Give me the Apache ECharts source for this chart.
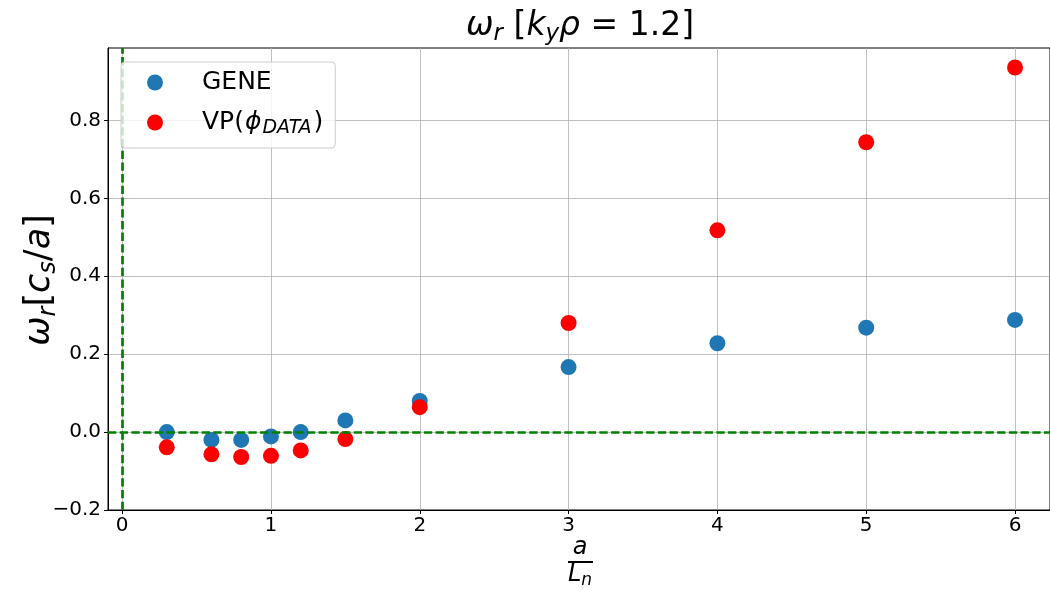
<!DOCTYPE html>
<html>
<head>
<meta charset="utf-8">
<script src="https://cdn.jsdelivr.net/npm/echarts@6/dist/echarts.min.js"></script>
<style>
  html, body { margin: 0; padding: 0; background: #fff; }
  #chart { width: 1050px; height: 589px; }
</style>
</head>
<body>
<div id="chart"></div>
<script>
// a / L_n values at which both models were evaluated
const aOverLn = [0.3, 0.6, 0.8, 1.0, 1.2, 1.5, 2, 3, 4, 5, 6];
// real frequency omega_r [c_s/a], GENE simulation
const geneOmega = [0.0, -0.02, -0.02, -0.011, 0.0, 0.03, 0.08, 0.167, 0.228, 0.268, 0.288];
// real frequency omega_r [c_s/a], VP model driven by phi data
const vpOmega = [-0.039, -0.057, -0.064, -0.061, -0.047, -0.018, 0.064, 0.280, 0.518, 0.744, 0.936];

const xTicks = [0, 1, 2, 3, 4, 5, 6];
const yTicks = [-0.2, 0.0, 0.2, 0.4, 0.6, 0.8];
const xRange = [-0.095, 6.235];
const yRange = [-0.2, 0.986];

const FONT = 'DejaVu Sans';
const pairs = (xs, ys) => xs.map((x, i) => [x, ys[i]]);
const minus = s => s.replace('-', '\u2212');

const chart = echarts.init(document.getElementById('chart'), null, { renderer: 'canvas' });

const axisCommon = {
  type: 'value',
  axisLine: { show: true, onZero: false, lineStyle: { color: '#000', width: 1 } },
  axisTick: { show: true, inside: false, length: 4, lineStyle: { color: '#000', width: 1 } },
  splitLine: { show: true, lineStyle: { color: '#b0b0b0', width: 0.8 } },
  axisLabel: { color: '#000', fontFamily: FONT, fontSize: 20 }
};

const option = {
  animation: false,
  backgroundColor: '#fff',
  grid: {
    left: 108, top: 48, width: 942, height: 462,
    show: true, borderColor: '#000', borderWidth: 1, backgroundColor: 'transparent'
  },
  xAxis: Object.assign({}, axisCommon, {
    min: xRange[0], max: xRange[1],
    axisTick: Object.assign({}, axisCommon.axisTick, { customValues: xTicks }),
    axisLabel: Object.assign({}, axisCommon.axisLabel, {
      customValues: xTicks, margin: 6,
      formatter: v => minus(String(Math.round(v)))
    })
  }),
  yAxis: Object.assign({}, axisCommon, {
    min: yRange[0], max: yRange[1],
    axisTick: Object.assign({}, axisCommon.axisTick, { customValues: yTicks }),
    axisLabel: Object.assign({}, axisCommon.axisLabel, {
      customValues: yTicks, margin: 7,
      formatter: v => minus(v.toFixed(1))
    })
  }),
  legend: {
    orient: 'vertical',
    left: 121, top: 62,
    padding: [8, 12, 10, 26],
    itemGap: 12,
    itemWidth: 16, itemHeight: 16,
    icon: 'circle',
    backgroundColor: 'rgba(255,255,255,0.8)',
    borderColor: '#cccccc', borderWidth: 1, borderRadius: 4,
    z: 10,
    data: ['GENE', 'VP'],
    formatter: name => name === 'GENE'
      ? '{g|GENE}'
      : '{g|VP(}{i|\u03d5}{s|DATA}{n|)}',
    textStyle: {
      color: '#000', fontFamily: FONT, fontSize: 25,
      rich: {
        g: { fontFamily: FONT, fontSize: 25, lineHeight: 27, padding: [0, 0, 0, 34], color: '#000' },
        n: { fontFamily: FONT, fontSize: 25, lineHeight: 27, color: '#000', padding: [0, 0, 0, 2] },
        i: { fontFamily: FONT, fontSize: 25, lineHeight: 27, fontStyle: 'italic', color: '#000', padding: [0, 1, 0, 1] },
        s: { fontFamily: FONT, fontSize: 19, lineHeight: 27, fontStyle: 'italic', color: '#000', padding: [12, 0, 0, 0] }
      }
    }
  },
  series: [
    {
      // reference lines at x = 0 and y = 0
      type: 'line', data: [], z: 1, silent: true,
      markLine: {
        silent: true, symbol: 'none', animation: false,
        label: { show: false },
        lineStyle: { color: '#008000', width: 2.7, type: [8.3, 3.4], opacity: 1 },
        data: [{ xAxis: 0 }, { yAxis: 0 }]
      }
    },
    {
      name: 'GENE', type: 'scatter', z: 3,
      symbol: 'circle', symbolSize: 16,
      itemStyle: { color: '#1f77b4', opacity: 1 },
      data: pairs(aOverLn, geneOmega)
    },
    {
      name: 'VP', type: 'scatter', z: 4,
      symbol: 'circle', symbolSize: 16,
      itemStyle: { color: '#ff0000', opacity: 1 },
      data: pairs(aOverLn, vpOmega)
    }
  ],
  graphic: [
    {
      // title: omega_r [k_y rho = 1.2]
      type: 'text', x: 580, y: 26, z: 20,
      style: {
        text: '{i|\u03c9}{s|r}{n| [}{i|k}{s|y}{i|\u03c1}{n| = 1.2]}',
        align: 'center', verticalAlign: 'middle',
        fill: '#000', font: '33px "DejaVu Sans"',
        rich: {
          n: { fontFamily: FONT, fontSize: 33, lineHeight: 40, fill: '#000' },
          i: { fontFamily: FONT, fontSize: 33, lineHeight: 40, fontStyle: 'italic', fill: '#000' },
          s: { fontFamily: FONT, fontSize: 23, lineHeight: 40, fontStyle: 'italic', fill: '#000', padding: [16, 0, 0, 0] }
        }
      }
    },
    {
      // y axis title: omega_r [c_s / a]
      type: 'text', x: 40, y: 280, rotation: Math.PI / 2, z: 20,
      style: {
        text: '{i|\u03c9}{s|r}{n|[}{i|c}{s|s}{n|/}{i|a}{n|]}',
        align: 'center', verticalAlign: 'middle',
        fill: '#000', font: '35px "DejaVu Sans"',
        rich: {
          n: { fontFamily: FONT, fontSize: 35, lineHeight: 42, fill: '#000' },
          i: { fontFamily: FONT, fontSize: 35, lineHeight: 42, fontStyle: 'italic', fill: '#000' },
          s: { fontFamily: FONT, fontSize: 24, lineHeight: 42, fontStyle: 'italic', fill: '#000', padding: [18, 0, 0, 0] }
        }
      }
    },
    {
      // x axis title: fraction a / L_n
      type: 'text', x: 580, y: 548, z: 20,
      style: {
        text: 'a', align: 'center', verticalAlign: 'middle',
        fill: '#000', font: 'italic 24px "DejaVu Sans"'
      }
    },
    {
      type: 'rect', z: 20,
      shape: { x: 568, y: 561, width: 25, height: 2 },
      style: { fill: '#000' }
    },
    {
      type: 'text', x: 580, y: 575, z: 20,
      style: {
        text: '{i|L}{s|n}',
        align: 'center', verticalAlign: 'middle',
        fill: '#000', font: 'italic 24px "DejaVu Sans"',
        rich: {
          i: { fontFamily: FONT, fontSize: 24, lineHeight: 28, fontStyle: 'italic', fill: '#000' },
          s: { fontFamily: FONT, fontSize: 17, lineHeight: 28, fontStyle: 'italic', fill: '#000', padding: [12, 0, 0, 0] }
        }
      }
    }
  ]
};

chart.setOption(option);
</script>
</body>
</html>
